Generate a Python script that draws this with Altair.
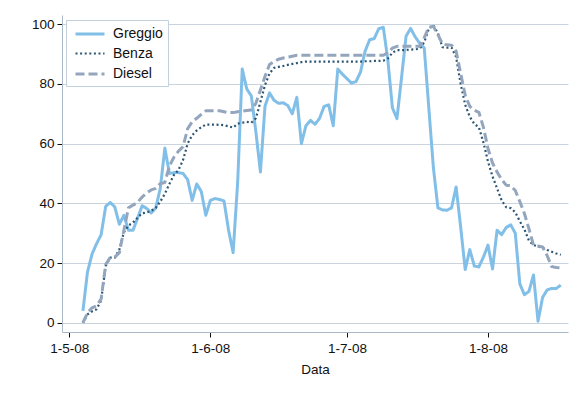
import altair as alt
import pandas as pd

series_names = ["Greggio", "Benza", "Diesel"]
series_colors = ["#82bfe8", "#2c5573", "#93a6bd"]
start_date = "2008-05-04"
end_date = "2008-08-17"

greggio = [
    4, 17, 23, 26.5, 29.5, 39, 40.3, 38.8, 33, 36,
    31, 31, 35, 39.2, 38.3, 36.8, 38.5, 45, 58.5, 50,
    50.3, 50.3, 50, 48, 41, 46.5, 44, 36, 41, 41.6,
    41.3, 40.8, 31, 23.5, 47, 85, 78.3, 76, 64, 50.5,
    72.5, 77, 74.5, 73.5, 73.7, 72.8, 70, 75.5, 60, 66,
    67.8, 66.5, 68.5, 72.5, 73, 66, 85, 83.3, 81.8, 80.3,
    80.8, 84, 91, 94.8, 95.2, 98.5, 99, 88, 72, 68.4,
    82, 96, 98.6, 95.8, 93.6, 92, 72, 52, 38.5, 37.8,
    37.7, 38.5, 45.5, 32, 17.8, 24.5, 19, 18.7, 22, 26,
    18, 31, 29.5, 31.9, 32.8, 30, 13, 9.4, 10.5, 16,
    0.5, 8.5, 11, 11.5, 11.5, 12.6,
]
benza = [
    0, 2.8, 3.8, 4.5, 7.5, 19, 21.8, 21.8, 24.5, 30.3,
    32.6, 33.5, 35.2, 36.7, 36.9, 37.5, 38.5, 40.6, 43.2, 46.5,
    49.5, 51.2, 54.5, 60, 62.8, 64.4, 65.5, 66.4, 66.4, 66.4,
    66.3, 66.2, 65.8, 65.4, 66.7, 67, 67.3, 67, 68.5, 74,
    79.6, 83.5, 85.4, 85.7, 86, 86.4, 86.7, 87, 87.3, 87.5,
    87.5, 87.5, 87.5, 87.5, 87.5, 87.5, 87.5, 87.5, 87.5, 87.5,
    87.5, 87.5, 87.6, 87.6, 87.7, 87.7, 87.8, 88.5, 90.5, 91.3,
    91.3, 91.4, 91.5, 91.6, 91.8, 94, 98.5, 99.7, 97, 92.3,
    92.2, 92.2, 89, 80, 73, 69, 66.6, 65.5, 60.4, 54,
    49, 45, 41, 38.7, 38.4, 37, 34, 31.3, 27.5, 26,
    25.6, 25.1, 24.4, 23.8, 23.2, 22.8,
]
diesel = [
    0, 3.3, 5, 5.7, 8, 19.5, 21.9, 22, 23.5, 31,
    38.5, 39.4, 40.3, 42.1, 43.5, 44.5, 45, 46.6, 47, 52.5,
    55.5, 57.5, 59, 65, 67.3, 68.5, 69.8, 71, 71, 71,
    71, 70.7, 70.4, 70.4, 70.7, 70.9, 71.1, 71.3, 73.5, 78,
    82.5, 86.5, 87.5, 88.3, 88.7, 89, 89.3, 89.6, 89.6, 89.6,
    89.6, 89.6, 89.6, 89.6, 89.6, 89.6, 89.6, 89.6, 89.6, 89.6,
    89.6, 89.6, 89.6, 89.6, 89.6, 89.6, 89.6, 90.5, 92, 92.6,
    92.6, 92.6, 92.6, 92.6, 92.6, 95.5, 99, 99.3, 96.5, 93.4,
    93.1, 93, 91, 83.5, 76.2, 72.5, 71.2, 70.5, 65.5, 58.4,
    53.5, 50.5, 48, 46.1, 45.9, 44.3, 40.6, 36.6, 31.5, 26,
    25.7, 25.4, 22.5, 18.8, 18.5, 18.4,
]

x_ticks = [(2008, 5, 1), (2008, 6, 1), (2008, 7, 1), (2008, 8, 1)]
y_ticks = [0, 20, 40, 60, 80, 100]

dates = pd.date_range(start_date, end_date, freq="D")
frames = []
for name, vals in zip(series_names, [greggio, benza, diesel]):
    frames.append(pd.DataFrame({"Data": dates[: len(vals)], "serie": name, "valore": vals}))
df = pd.concat(frames, ignore_index=True)

FONT = "Liberation Sans"

chart = (
    alt.Chart(df)
    .mark_line(interpolate="linear", strokeCap="butt", strokeJoin="round")
    .encode(
        x=alt.X(
            "Data:T",
            title="Data",
            scale=alt.Scale(
                domain=[
                    alt.DateTime(year=2008, month=4, date=29, hours=9, minutes=36),
                    alt.DateTime(year=2008, month=8, date=18, hours=14),
                ]
            ),
            axis=alt.Axis(
                values=[alt.DateTime(year=y, month=m, date=d) for (y, m, d) in x_ticks],
                format="%-d-%-m-%y",
                grid=False,
                tickSize=5,
                labelPadding=4,
                titlePadding=8,
            ),
        ),
        y=alt.Y(
            "valore:Q",
            title=None,
            scale=alt.Scale(domain=[-3.1, 103.1], nice=False, zero=False),
            axis=alt.Axis(values=y_ticks, grid=True, tickSize=5, labelPadding=3),
        ),
        color=alt.Color(
            "serie:N",
            scale=alt.Scale(domain=series_names, range=series_colors),
            title=None,
            legend=alt.Legend(
                orient="none",
                legendX=4,
                legendY=5,
                symbolType="M-2,0H2",
                symbolSize=210,
                symbolOffset=10,
                symbolStrokeWidth=3,
                labelOffset=14,
                labelExpr="datum.label + '\u00a0\u00a0\u00a0\u00a0\u00a0\u00a0\u00a0\u00a0\u00a0\u00a0'",
                rowPadding=4,
                padding=5,
                fillColor="white",
                strokeColor="#c3d0dd",
                labelFontSize=14,
                labelFont=FONT,
                labelColor="#111111",
            ),
        ),
        strokeDash=alt.StrokeDash(
            "serie:N",
            scale=alt.Scale(domain=series_names, range=[[1, 0], [2, 2.6], [9, 4]]),
            title=None,
        ),
        strokeWidth=alt.StrokeWidth(
            "serie:N",
            scale=alt.Scale(type="ordinal", domain=series_names, range=[3, 2.2, 3]),
            legend=None,
        ),
    )
    .properties(
        width=506,
        height=317,
        autosize=alt.AutoSizeParams(type="none"),
        padding={"left": 54, "top": 7, "right": 10, "bottom": 60},
        background="white",
    )
    .configure_view(stroke=None)
    .configure_axis(
        labelFont=FONT,
        titleFont=FONT,
        labelFontSize=13.5,
        titleFontSize=13.5,
        titleFontWeight="normal",
        labelColor="#111111",
        titleColor="#111111",
        domainColor="#a8b8c6",
        tickColor="#111111",
        gridColor="#c9d4de",
        gridWidth=1,
        domainWidth=1,
    )
)

chart.save("out.html", embed_options={"renderer": "svg", "actions": False})
